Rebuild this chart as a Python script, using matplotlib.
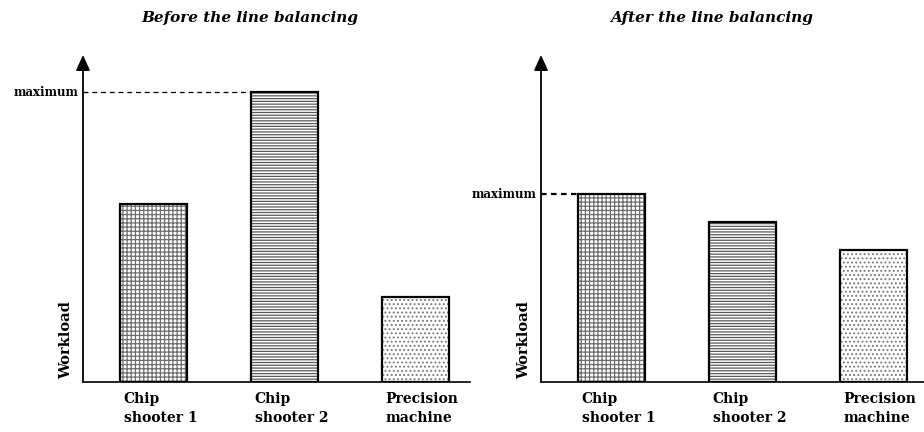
import matplotlib.pyplot as plt
import numpy as np

# workload (left tallest bar = 100)
machines = ['Chip\nshooter 1', 'Chip\nshooter 2', 'Precision\nmachine']
before = [61.4, 100, 29.3]
after = [64.8, 55.2, 45.5]
titles = ['Before the line balancing', 'After the line balancing']

hatches = ['++++', '------', '....']
hatch_cols = ['#6e6e6e', '#5a5a5a', '#7a7a7a']

W, H = 924, 432
fig = plt.figure(figsize=(W / 100, H / 100), dpi=100)
plt.rcParams['hatch.linewidth'] = 0.9
serif = 'DejaVu Serif'

# axes placed in pixels: left edge of axis, right end of baseline, title centre
panels = [(83, 470, 250), (541, 924, 712)]
dash_lw = [0.9, 1.6]
bw = 0.51

for (x0, x1, tx), vals, title, dlw in zip(panels, [before, after], titles, dash_lw):
    ax = fig.add_axes([x0 / W, (H - 382) / H, (x1 - x0) / W, (382 - 50) / H])
    ax.set_xlim(-0.54, -0.54 + (x1 - x0) / 131)
    ax.set_ylim(0, 114.5)
    for s in ax.spines.values():
        s.set_visible(False)
    ax.set_xticks([])
    ax.set_yticks([])

    xs = np.arange(len(vals))
    # hatch in grey, outline in black
    for x, v, h, c in zip(xs, vals, hatches, hatch_cols):
        ax.bar(x, v, bw, color='white', edgecolor=c, hatch=h, linewidth=0)
    ax.bar(xs, vals, bw, fill=False, edgecolor='black', linewidth=1.6)

    # baseline and arrow axis
    ax.plot([-0.54, ax.get_xlim()[1]], [0, 0], color='black', lw=1.2, clip_on=False)
    ax.annotate('', xy=(-0.54, 112.8), xytext=(-0.54, 0),
                arrowprops=dict(arrowstyle='-|>,head_length=0.55,head_width=0.25',
                                color='black', lw=1.3,
                                mutation_scale=17, shrinkA=0, shrinkB=0),
                annotation_clip=False)

    # maximum marker
    i = int(np.argmax(vals))
    ax.plot([-0.54, i - bw / 2], [vals[i], vals[i]], color='black', lw=dlw,
            ls=(0, (4, 3)) if dlw < 1 else (0, (2.5, 2)), clip_on=False)
    ax.text(-0.575, vals[i], 'maximum', ha='right', va='center', fontsize=8.5,
            fontweight='bold', family=serif)

    ax.text(-0.665, 1, 'Workload', rotation=90, ha='center', va='bottom',
            fontsize=10.5, fontweight='bold', family=serif)

    for x, lab in zip(xs, machines):
        ax.text(x - bw / 2 + 0.025, -3.4, lab, ha='left', va='top', fontsize=10,
                fontweight='bold', family=serif, linespacing=1.45)

    fig.text(tx / W, 1 - 18 / H, title, ha='center', va='center', fontsize=11,
             fontweight='bold', fontstyle='italic', family=serif)

fig.savefig('out.png', dpi=100)
